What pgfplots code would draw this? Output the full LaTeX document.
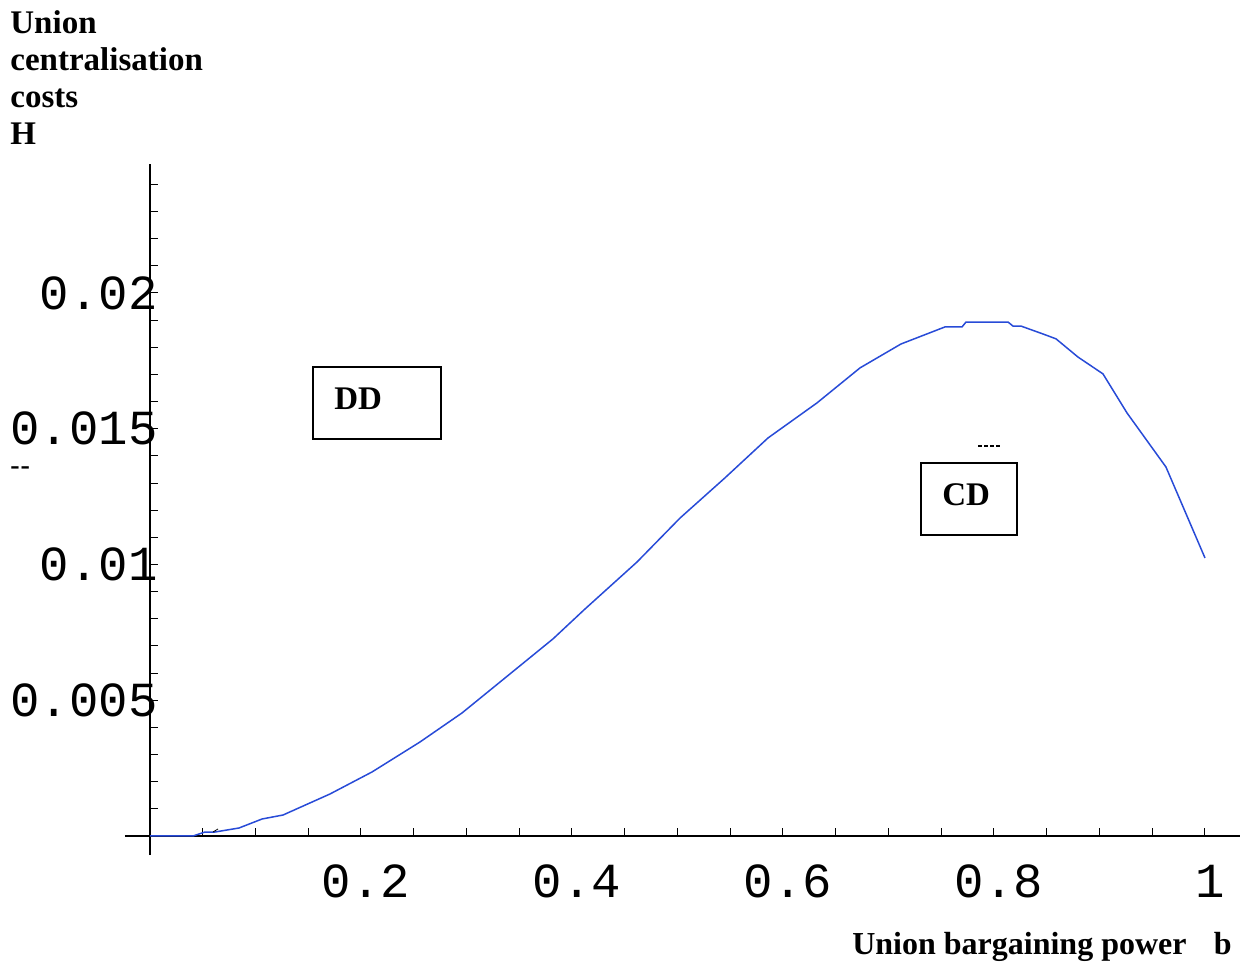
\documentclass[border=0pt]{standalone}
\usepackage{fontspec}
\setmainfont{Liberation Serif}
\newfontfamily\monofont{Liberation Mono}
\usepackage{pgfplots}
\pgfplotsset{compat=1.18}
\definecolor{curveblue}{RGB}{40,75,215}

\begin{document}
\begin{tikzpicture}
\begin{axis}[
  at={(0,0)}, anchor=south west,
  scale only axis,
  width=557.5pt, height=345.5pt,
  xmin=-0.0237, xmax=1.0332,
  ymin=-0.0007, ymax=0.02475,
  axis lines=middle,
  axis line style={-, black, line width=0.6pt},
  clip=false,
  scaled y ticks=false, scaled x ticks=false,
  xtick={0.2,0.4,0.6,0.8,1},
  xticklabels={0.2,0.4,0.6,0.8,1},
  minor xtick={0.05,0.1,...,1.0},
  ytick={0.005,0.01,0.015,0.02},
  yticklabels={0.005,0.01,0.015,0.02},
  minor ytick={0.001,0.002,...,0.0245},
  tick align=inside,
  major tick length=4pt, minor tick length=4pt,
  tick style={black, line width=0.5pt},
  xticklabel style={font=\monofont\fontsize{24.5}{24.5}\selectfont,
    anchor=center, inner sep=0pt, yshift=-22.5pt, xshift=2.5pt},
  yticklabel style={font=\monofont\fontsize{24.5}{24.5}\selectfont,
    anchor=east, inner sep=0pt, xshift=4pt},
]
\addplot[curveblue, line width=0.75pt] coordinates {
(0,0) (0.0408,0) (0.0521,0.000147) (0.0616,0.000147) (0.0844,0.000295)
(0.1062,0.000626) (0.1261,0.000773) (0.1706,0.001547) (0.2104,0.002357)
(0.2559,0.003462) (0.2957,0.00453) (0.3365,0.00582) (0.382,0.00726)
(0.4123,0.00836) (0.4616,0.01009) (0.5024,0.01171) (0.545,0.01319)
(0.5858,0.01466) (0.6322,0.01595) (0.673,0.01724) (0.7118,0.01812)
(0.7536,0.01875) (0.7697,0.01875) (0.7735,0.01893) (0.8133,0.01893)
(0.818,0.01878) (0.8256,0.01878) (0.8464,0.01849) (0.8588,0.01831)
(0.8796,0.01764) (0.9033,0.01702) (0.9261,0.01558) (0.963,0.01359)
(1.0,0.01024)
};
% region boxes
\draw[line width=1pt] (axis cs:0.1545,0.01462) rectangle (axis cs:0.2758,0.01727);
\node[anchor=west, inner sep=0pt, font=\bfseries\fontsize{16.5}{18.5}\selectfont]
  at (axis cs:0.1744,0.01610) {DD};
\draw[line width=1pt] (axis cs:0.7308,0.01109) rectangle (axis cs:0.8218,0.01374);
\node[anchor=west, inner sep=0pt, font=\bfseries\fontsize{16.5}{18.5}\selectfont]
  at (axis cs:0.7507,0.01256) {CD};
% stray marks
\draw[line width=0.6pt, dash pattern=on 2pt off 1pt] (axis cs:0.785,0.01436) -- (axis cs:0.806,0.01436);
\draw[line width=0.4pt] (axis cs:0.0597,0.000147) -- (axis cs:0.0645,0.00026);
\node[anchor=west, inner sep=0pt, font=\bfseries\fontsize{14}{14}\selectfont]
  at (axis cs:-0.1327,0.01345) {-\kern0.5pt-};
% axis titles
\node[anchor=north west, inner sep=0pt, align=left,
  font=\bfseries\fontsize{16.5}{18.5}\selectfont]
  at (axis cs:-0.1327,0.03042) {Union\\centralisation\\costs\\H};
\node[anchor=base east, inner sep=0pt, font=\bfseries\fontsize{16}{18}\selectfont]
  at (axis cs:1.0256,-0.00438) {Union bargaining power\hspace{0.85em}b};
\end{axis}
\pgfresetboundingbox
\path[use as bounding box] (-62.5pt,-54pt) rectangle (560pt,427.5pt);
\end{tikzpicture}
\end{document}
